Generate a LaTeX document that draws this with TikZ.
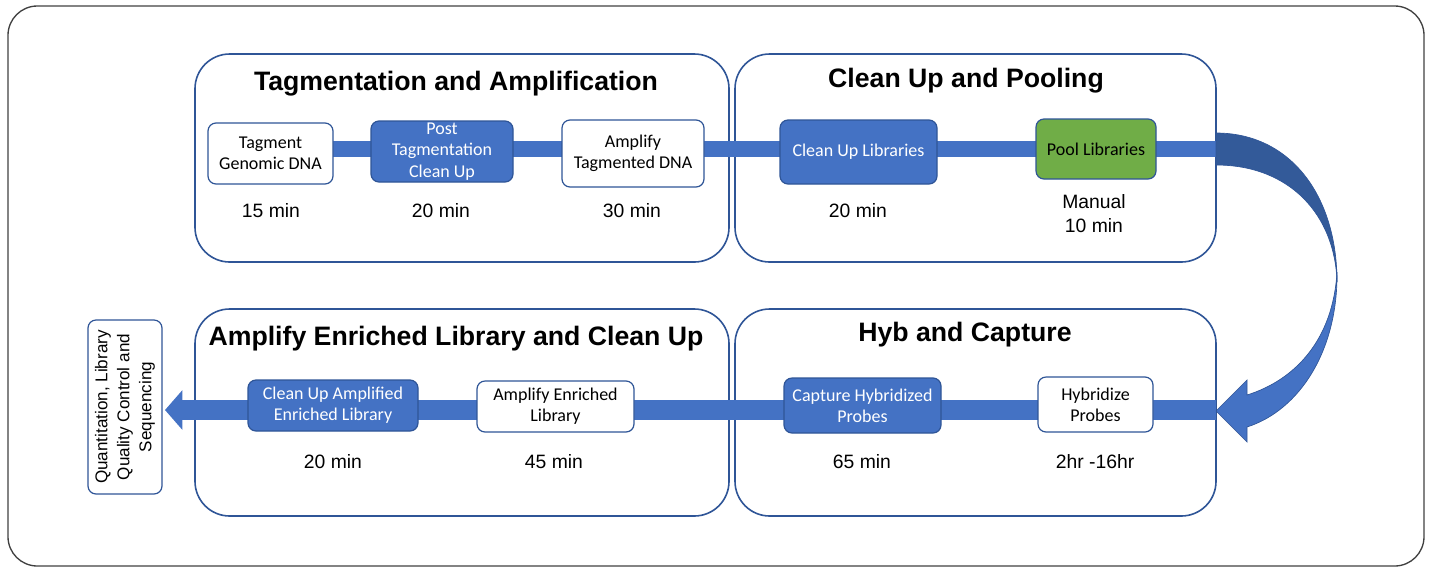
\documentclass[tikz,border=0pt]{standalone}
\usepackage{fontspec}
\setmainfont{Liberation Sans}
\newfontfamily\calib{Carlito}
\usetikzlibrary{arrows.meta}
\definecolor{stepblue}{HTML}{4472C4}
\definecolor{edgeblue}{HTML}{2F5597}
\definecolor{darkblue}{HTML}{335A99}
\definecolor{poolgreen}{HTML}{70AD47}
\definecolor{framegray}{HTML}{404040}
\begin{document}
\begin{tikzpicture}[x=0.75pt,y=-0.75pt,
    panel/.style={draw=edgeblue, line width=1.2pt, fill=white, rounded corners=26pt, inner sep=0pt},
    phase/.style={font=\bfseries\fontsize{20}{24}\selectfont},
    stepbox/.style={draw=edgeblue, line width=0.9pt, fill=white, rounded corners=6pt, align=center, inner sep=1pt, font=\calib\fontsize{13.5}{16}\selectfont},
    stepfill/.style={stepbox, fill=stepblue, text=white},
    timing/.style={font=\fontsize{14.5}{18}\selectfont, align=center},
    band/.style={stepblue, line width=12pt}]
        \useasboundingbox (0,0) rectangle (1431,569);
        \draw[framegray, line width=1pt, rounded corners=22pt] (8,6) rectangle (1424,566);
        % the four phases
        \node[panel, minimum width=400.5pt, minimum height=156pt] (p1) at (462,158) {};
        \node[panel, minimum width=360.75pt, minimum height=156pt] (p2) at (975.5,158) {};
        \node[panel, minimum width=400.5pt, minimum height=155.25pt] (p3) at (462,412.5) {};
        \node[panel, minimum width=360.75pt, minimum height=155.25pt] (p4) at (975.5,412.5) {};
        \node[phase] (h1) at (456,84) {Tagmentation and Amplification};
        \node[phase] (h2) at (966,81) {Clean Up and Pooling};
        \node[phase] (h3) at (456,339) {Amplify Enriched Library and Clean Up};
        \node[phase] (h4) at (965,335) {Hyb and Capture};
        % bands
        \coordinate (tbL) at (270,149);
        \coordinate (tbR) at (1216,149);
        \coordinate (bbR) at (1216,410);
        \coordinate (bbL) at (165,410);
        \draw[band] (tbL) -- (tbR);
        \draw[band, line width=15pt, -{Triangle[width=29pt,length=13pt]}] (bbR) -- (bbL);
        % turn from the top row to the bottom row
        \filldraw[fill=darkblue, draw=edgeblue, line width=0.5pt] (1216,133) .. controls (1290,133) and (1337,195) .. (1337,282)
            .. controls (1335,215) and (1290,165) .. (1216,165) -- cycle;
        \filldraw[fill=stepblue, draw=edgeblue, line width=0.5pt] (1337,272) .. controls (1338,350) and (1300,410) .. (1247,427)
            -- (1247,442) -- (1216,411) -- (1247,380) -- (1247,395)
            .. controls (1295,380) and (1333,340) .. (1337,272) -- cycle;
        % steps
        \node[stepbox, minimum width=93.75pt, minimum height=45.75pt] (b1) at (270.5,153.5) {Tagment\\Genomic DNA};
        \node[stepfill, minimum width=106.5pt, minimum height=45.75pt] (b2) at (442,151.5) {Post\\Tagmentation\\Clean Up};
        \node[stepbox, minimum width=106.5pt, minimum height=50.25pt] (b3) at (633,153.5) {Amplify\\Tagmented DNA};
        \node[stepfill, minimum width=117.75pt, minimum height=48pt] (b4) at (858.5,152) {Clean Up Libraries};
        \node[stepbox, fill=poolgreen, minimum width=90pt, minimum height=45pt] (b5) at (1096,149) {Pool Libraries};
        \node[stepfill, minimum width=127.5pt, minimum height=38.25pt] (c1) at (333,405.5) {Clean Up Amplified\\Enriched Library};
        \node[stepbox, minimum width=117.75pt, minimum height=38.25pt] (c2) at (555.5,406.5) {Amplify Enriched\\Library};
        \node[stepfill, minimum width=117.75pt, minimum height=41.25pt] (c3) at (862.5,405.5) {Capture Hybridized\\Probes};
        \node[stepbox, minimum width=86.25pt, minimum height=41.25pt] (c4) at (1095.5,404.5) {Hybridize\\Probes};
        \node[draw=edgeblue, line width=0.9pt, rounded corners=6pt, rotate=90, align=center, inner sep=1pt,
            minimum width=130.5pt, minimum height=55.5pt, font=\fontsize{12.8}{16.5}\selectfont] (qc) at (125,407)
            {Quantitation, Library\\Quality Control and\\Sequencing};
        % times
        \foreach \nm/\xx/\yy/\txt in {t1/271/211/15 min, t2/441/211/20 min, t3/632/211/30 min, t4/858/211/20 min,
            t6/333/462/20 min, t7/554/462/45 min, t8/862/462/65 min, t9/1095/462/2hr -16hr} {
            \node[timing] (\nm) at (\xx,\yy) {\txt};
        }
        \node[timing] (t5) at (1094,214) {Manual\\10 min};
    \end{tikzpicture}
\end{document}
